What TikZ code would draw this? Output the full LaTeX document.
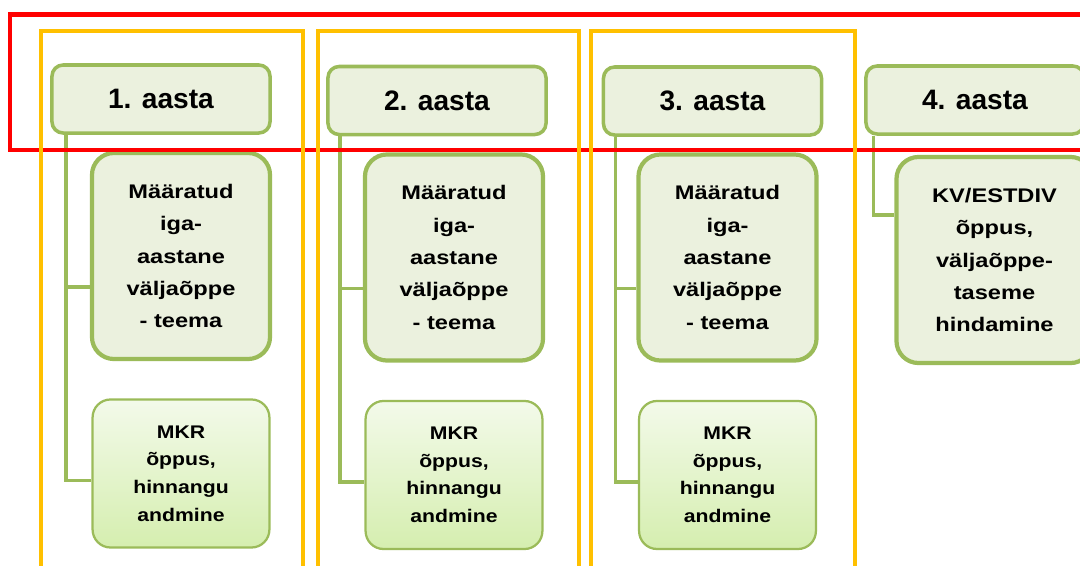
\documentclass[tikz,border=0pt]{standalone}
\usepackage{fontspec}
\setmainfont{Liberation Sans}
\newfontfamily\wideface{Liberation Sans}[FakeStretch=1.2]
\newfontfamily\examface{Liberation Sans}[FakeStretch=1.16]
\usetikzlibrary{positioning}

\definecolor{leaf}{HTML}{9BBB59}
\definecolor{pale}{HTML}{EBF1DE}
\definecolor{examtop}{HTML}{F3FAEA}
\definecolor{exambot}{HTML}{D5EEAF}
\definecolor{frameorange}{HTML}{FFC000}

\tikzset{
  year/.style={draw=leaf, fill=pale, line width=2.5pt, rounded corners=0.28cm,
    minimum width=5.45cm, minimum height=1.7cm, inner sep=0pt,
    font=\fontsize{20}{24}\selectfont\bfseries},
  task/.style={draw=leaf, fill=pale, line width=3pt, rounded corners=0.55cm,
    minimum width=4.45cm, minimum height=5.15cm, text width=4.3cm, align=center,
    inner sep=0pt, font=\wideface\fontsize{14}{23}\selectfont\bfseries},
  exam/.style={draw=leaf, top color=examtop, bottom color=exambot, line width=1.6pt,
    rounded corners=0.45cm, minimum width=4.42cm, minimum height=3.7cm,
    text width=4.3cm, align=center, inner sep=0pt,
    font=\examface\fontsize{13}{19.6}\selectfont\bfseries},
  link/.style={draw=leaf, line width=2.5pt},
  yearframe/.style={draw=red, line width=3.5pt},
  colframe/.style={draw=frameorange, line width=3pt},
}

\begin{document}
\begin{tikzpicture}[x=0.025cm, y=-0.025cm]

  \useasboundingbox (0,0) rectangle (1080,566);

  \node (Y1) [year] at (161,99) {1. aasta};
  \node (Y2) [year] at (437,100.5) {2. aasta};
  \node (Y3) [year] at (712.5,101) {3. aasta};
  \node (Y4) [year] at (975,100) {4. aasta};

  \node (T1) [task] at (181,256) {Määratud\\iga-\\aastane\\väljaõppe\\- teema};
  \node (T2) [task] at (454,257.5) {Määratud\\iga-\\aastane\\väljaõppe\\- teema};
  \node (T3) [task] at (727.5,257.5) {Määratud\\iga-\\aastane\\väljaõppe\\- teema};
  \node (T4) [task, minimum width=4.9cm] at (994.5,260) {KV/ESTDIV\\õppus,\\väljaõppe-\\taseme\\hindamine};

  \node (E1) [exam, below=0.93cm of T1] {MKR\\õppus,\\hinnangu\\andmine};
  \node (E2) [exam, below=0.93cm of T2] {MKR\\õppus,\\hinnangu\\andmine};
  \node (E3) [exam, below=0.93cm of T3] {MKR\\õppus,\\hinnangu\\andmine};

  \draw[link] ([xshift=0.4cm]Y1.south west) |- ([yshift=-0.78cm]T1.west);
  \draw[link] ([xshift=0.4cm]Y1.south west) |- ([yshift=-0.18cm]E1.west);
  \draw[link] ([xshift=0.35cm]Y2.south west) |- ([yshift=-0.78cm]T2.west);
  \draw[link] ([xshift=0.35cm]Y2.south west) |- ([yshift=-0.18cm]E2.west);
  \draw[link] ([xshift=0.35cm]Y3.south west) |- ([yshift=-0.78cm]T3.west);
  \draw[link] ([xshift=0.35cm]Y3.south west) |- ([yshift=-0.18cm]E3.west);
  \draw[link] ([xshift=0.23cm]Y4.south west) |- ([yshift=1.12cm]T4.west);

  % frames
  \draw[yearframe] (10,14.5) rectangle (1100,150);
  \draw[colframe] (41,31) rectangle (303,600);
  \draw[colframe] (318,31) rectangle (579,600);
  \draw[colframe] (591,31) rectangle (855,600);

\end{tikzpicture}
\end{document}
